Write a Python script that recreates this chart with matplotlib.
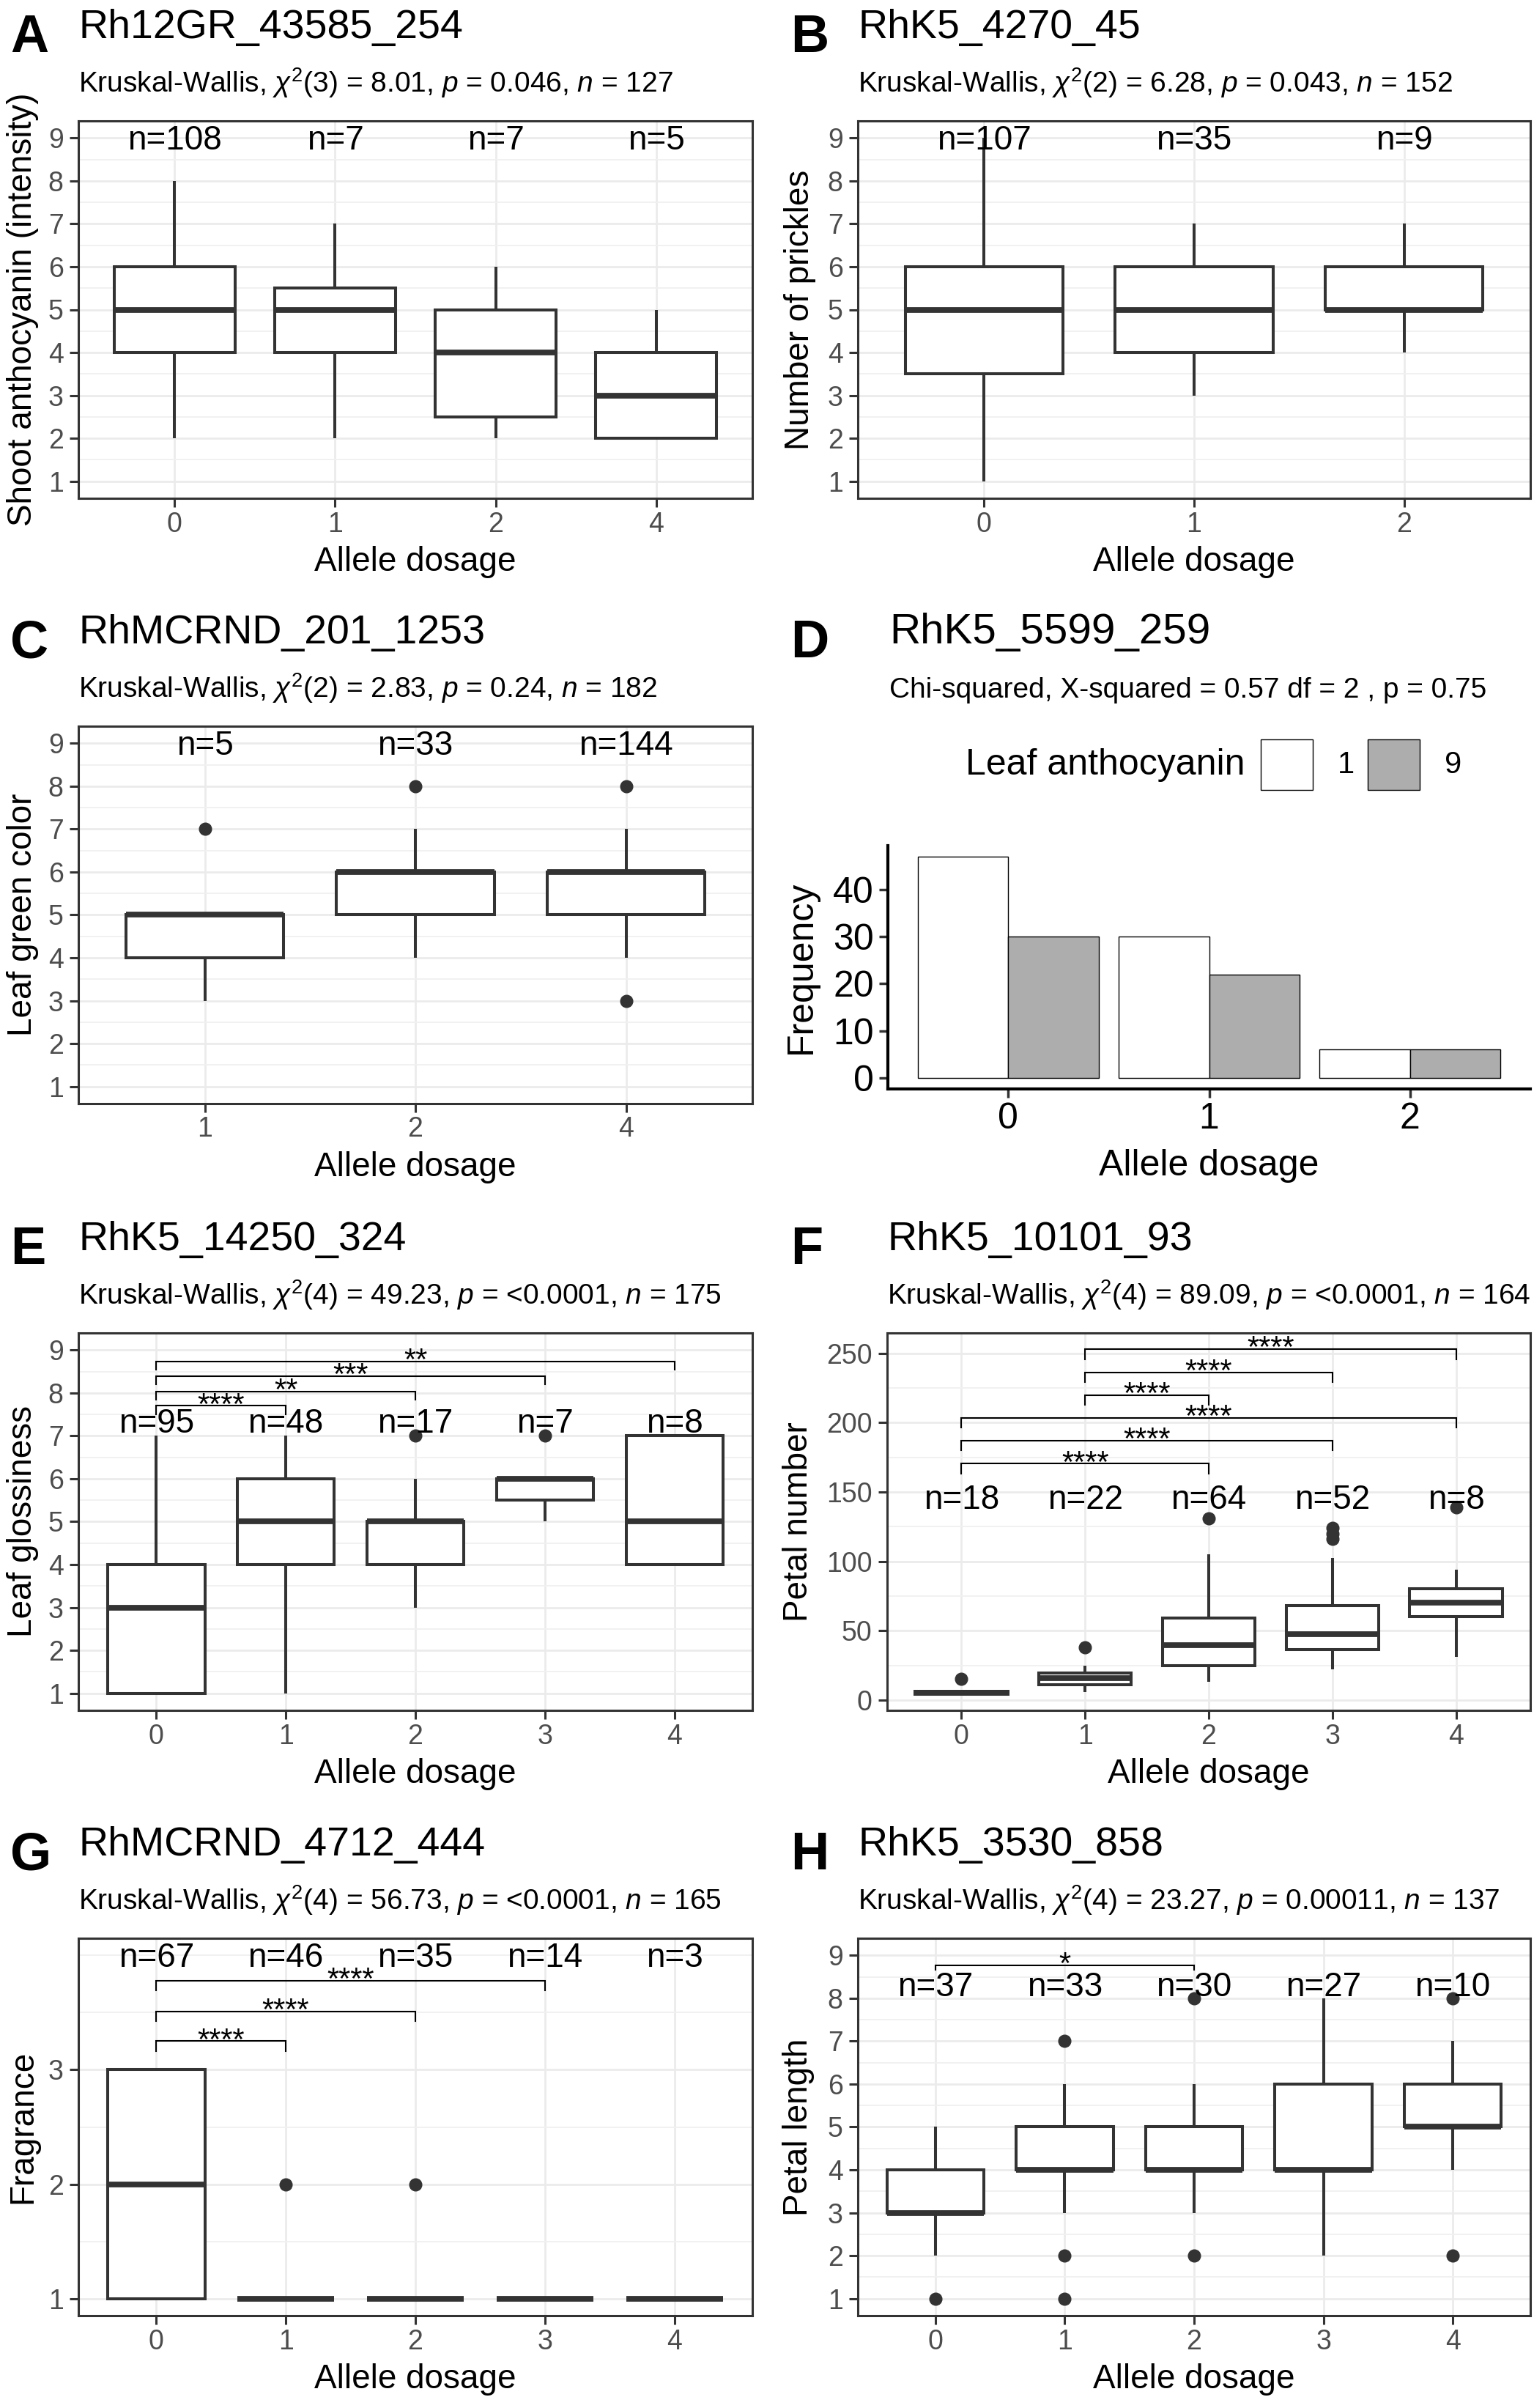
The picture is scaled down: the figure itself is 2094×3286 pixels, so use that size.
import numpy as np
import matplotlib
matplotlib.use('Agg')
import matplotlib.pyplot as plt
from matplotlib.patches import Rectangle

plt.rcParams['font.family'] = ['Liberation Sans', 'DejaVu Sans']
plt.rcParams['mathtext.fontset'] = 'custom'
plt.rcParams['mathtext.rm'] = 'Liberation Sans'
plt.rcParams['mathtext.it'] = 'Liberation Sans:italic'
plt.rcParams['mathtext.bf'] = 'Liberation Sans:bold'

W, H = 2094, 3286
DK = '#333333'

# ---------------- data ----------------
# A  shoot anthocyanin
A_cats = ['0', '1', '2', '4']
A_n = [108, 7, 7, 5]
A_q1 = [4, 4, 2.5, 2]
A_med = [5, 5, 4, 3]
A_q3 = [6, 5.5, 5, 4]
A_lo = [2, 2, 2, 2]
A_hi = [8, 7, 6, 5]
A_out = [[], [], [], []]

# B  number of prickles
B_cats = ['0', '1', '2']
B_n = [107, 35, 9]
B_q1 = [3.5, 4, 5]
B_med = [5, 5, 5]
B_q3 = [6, 6, 6]
B_lo = [1, 3, 4]
B_hi = [9, 7, 7]
B_out = [[], [], []]

# C  leaf green color
C_cats = ['1', '2', '4']
C_n = [5, 33, 144]
C_q1 = [4, 5, 5]
C_med = [5, 6, 6]
C_q3 = [5, 6, 6]
C_lo = [3, 4, 4]
C_hi = [5, 7, 7]
C_out = [[7], [8], [8, 3]]

# D  leaf anthocyanin counts
D_cats = ['0', '1', '2']
D_groups = ['1', '9']
D_freq_1 = [47, 30, 6]
D_freq_9 = [30, 22, 6]

# E  leaf glossiness
E_cats = ['0', '1', '2', '3', '4']
E_n = [95, 48, 17, 7, 8]
E_q1 = [1, 4, 4, 5.5, 4]
E_med = [3, 5, 5, 6, 5]
E_q3 = [4, 6, 5, 6, 7]
E_lo = [1, 1, 3, 5, 4]
E_hi = [7, 7, 6, 6, 7]
E_out = [[], [], [7], [7], []]
E_pairs = [(0, 1), (0, 2), (0, 3), (0, 4)]
E_sig = ['****', '**', '***', '**']
E_sig_y = [7.7, 8.04, 8.4, 8.74]

# F  petal number
F_cats = ['0', '1', '2', '3', '4']
F_n = [18, 22, 64, 52, 8]
F_q1 = [4, 11, 24.5, 36.5, 60]
F_med = [5, 16, 39.5, 47.5, 70]
F_q3 = [6, 19.5, 59, 68, 80.5]
F_lo = [3, 5.5, 13, 22, 31]
F_hi = [7, 25, 105, 102.5, 94]
F_out = [[15], [38], [131], [116, 120, 124], [139]]
F_pairs = [(0, 2), (0, 3), (0, 4), (1, 2), (1, 3), (1, 4)]
F_sig = ['****'] * 6
F_sig_y = [170.4, 186.9, 203.4, 219.9, 236.4, 252.9]

# G  fragrance
G_cats = ['0', '1', '2', '3', '4']
G_n = [67, 46, 35, 14, 3]
G_q1 = [1, 1, 1, 1, 1]
G_med = [2, 1, 1, 1, 1]
G_q3 = [3, 1, 1, 1, 1]
G_lo = [1, 1, 1, 1, 1]
G_hi = [3, 1, 1, 1, 1]
G_out = [[], [2], [2], [], []]
G_pairs = [(0, 1), (0, 2), (0, 3)]
G_sig = ['****'] * 3
G_sig_y = [3.25, 3.51, 3.78]

# H  petal length
H_cats = ['0', '1', '2', '3', '4']
H_n = [37, 33, 30, 27, 10]
H_q1 = [3, 4, 4, 4, 5]
H_med = [3, 4, 4, 4, 5]
H_q3 = [4, 5, 5, 6, 6]
H_lo = [2, 3, 3, 2, 4]
H_hi = [5, 6, 6, 8, 7]
H_out = [[1], [7, 2, 1], [8, 2], [], [8, 2]]
H_pairs = [(0, 2)]
H_sig = ['*']
H_sig_y = [8.77]

# ---------------- drawing ----------------
fig = plt.figure(figsize=(W / 100, H / 100), dpi=100)


def add_ax(x0, y0, x1, y1):
    # pixel box -> figure fraction
    return fig.add_axes([x0 / W, 1 - y1 / H, (x1 - x0) / W, (y1 - y0) / H])


def headings(letter, lx, title, tx, sub, rowtop, tsize=40):
    fig.text(lx / W, 1 - (rowtop - 94) / H, letter, fontsize=52,
             fontweight='bold', va='baseline')
    fig.text(tx / W, 1 - (rowtop - 113) / H, title, fontsize=tsize, va='baseline')
    fig.text(tx / W, 1 - (rowtop - 39) / H, sub, fontsize=28, va='baseline')


def box_panel(rect, cats, n, q1, med, q3, lo, hi, out, ylim, yticks, yminor,
              n_y, ylabel, ylab_x):
    ax = add_ax(*rect)
    stats = [dict(q1=a, med=m, q3=b, whislo=l, whishi=h, fliers=o)
             for a, m, b, l, h, o in zip(q1, med, q3, lo, hi, out)]
    ax.bxp(stats, positions=range(len(cats)), widths=0.75, patch_artist=True,
           showcaps=False, zorder=3,
           boxprops=dict(facecolor='white', edgecolor=DK, linewidth=2.9),
           medianprops=dict(color=DK, linewidth=5.6, solid_capstyle='butt'),
           whiskerprops=dict(color=DK, linewidth=2.9, solid_capstyle='butt'),
           flierprops=dict(marker='o', markerfacecolor=DK, markeredgecolor=DK,
                           markersize=12, linestyle='none'))
    ax.set_xlim(-0.6, len(cats) - 0.4)
    ax.set_ylim(*ylim)
    ax.set_xticks(range(len(cats)))
    ax.set_xticklabels(cats)
    ax.set_yticks(yticks)
    ax.set_yticks(yminor, minor=True)
    ax.set_axisbelow(True)
    ax.grid(True, which='major', color='#EBEBEB', lw=2.0)
    ax.grid(True, which='minor', axis='y', color='#F1F1F1', lw=1.4)
    ax.tick_params(which='minor', length=0)
    ax.tick_params(which='major', length=8.6, width=2.2, color=DK,
                   labelsize=27, labelcolor='#4D4D4D')
    ax.tick_params(axis='x', pad=4)
    ax.tick_params(axis='y', pad=6)
    for s in ax.spines.values():
        s.set_color(DK)
        s.set_linewidth(2.2)
    for i, v in enumerate(n):
        ax.text(i, n_y, 'n=%d' % v, ha='center', va='center', fontsize=33, zorder=5)
    ax.set_xlabel('Allele dosage', fontsize=33, va='center')
    ax.xaxis.set_label_coords(0.5, -87 / (rect[3] - rect[1]))
    ax.set_ylabel(ylabel, fontsize=33, va='center')
    ax.yaxis.set_label_coords((ylab_x - rect[0]) / (rect[2] - rect[0]), 0.5)
    return ax


def brackets(ax, pairs, ys, labels, tip):
    for (a, b), y, lab in zip(pairs, ys, labels):
        ax.plot([a, a, b, b], [y - tip, y, y, y - tip], color='black', lw=1.5,
                zorder=4, solid_joinstyle='miter')
        ax.annotate(lab, xy=((a + b) / 2, y), xytext=(0, -8),
                    textcoords='offset points', ha='center', va='baseline',
                    fontsize=30, zorder=5)


nine = list(range(1, 10))
nine_minor = [i + 0.5 for i in range(1, 9)]
sub_kw = r'Kruskal-Wallis, $\chi^2$'

# row tops (pixels)
r1, r2, r3, r4 = 165, 991, 1819, 2645

# A
headings('A', 14, 'Rh12GR_43585_254', 107,
         sub_kw + r'(3) = 8.01, $p$ = 0.046, $n$ = 127', r1)
box_panel((107, r1, 1027, r1 + 515), A_cats, A_n, A_q1, A_med, A_q3, A_lo, A_hi,
          A_out, (0.6, 9.4), nine, nine_minor, 8.94,
          'Shoot anthocyanin (intensity)', 31)

# B
headings('B', 1079, 'RhK5_4270_45', 1171,
         sub_kw + r'(2) = 6.28, $p$ = 0.043, $n$ = 152', r1)
box_panel((1171, r1, 2089, r1 + 515), B_cats, B_n, B_q1, B_med, B_q3, B_lo, B_hi,
          B_out, (0.6, 9.4), nine, nine_minor, 8.94, 'Number of prickles', 1092)

# C
headings('C', 14, 'RhMCRND_201_1253', 107,
         sub_kw + r'(2) = 2.83, $p$ = 0.24, $n$ = 182', r2)
box_panel((107, r2, 1027, r2 + 515), C_cats, C_n, C_q1, C_med, C_q3, C_lo, C_hi,
          C_out, (0.6, 9.4), nine, nine_minor, 8.94, 'Leaf green color', 31)

# D  bar chart
headings('D', 1079, 'RhK5_5599_259', 1214,
         'Chi-squared, X-squared = 0.57 df = 2 , p = 0.75', r2, tsize=42)
drect = (1212, 1154, 2089, 1486)
axd = add_ax(*drect)
xd = np.arange(len(D_cats))
axd.bar(xd - 0.225, D_freq_1, width=0.45, color='white', edgecolor='black', lw=1.0)
axd.bar(xd + 0.225, D_freq_9, width=0.45, color='#ADADAD', edgecolor='black', lw=1.0)
axd.set_xlim(-0.6, 2.6)
axd.set_ylim(-2.35, 49.35)
axd.set_xticks(xd)
axd.set_xticklabels(D_cats)
axd.set_yticks([0, 10, 20, 30, 40])
for s in ['top', 'right']:
    axd.spines[s].set_visible(False)
for s in ['left', 'bottom']:
    axd.spines[s].set_color('black')
    axd.spines[s].set_linewidth(3.0)
axd.tick_params(length=8.6, width=2.5, color=DK, labelsize=36, labelcolor='black')
axd.tick_params(axis='x', pad=4)
axd.tick_params(axis='y', pad=5)
axd.set_xlabel('Allele dosage', fontsize=36, va='center')
axd.xaxis.set_label_coords(0.5, -105 / (drect[3] - drect[1]))
axd.set_ylabel('Frequency', fontsize=36, va='center')
axd.yaxis.set_label_coords((1094 - drect[0]) / (drect[2] - drect[0]), 0.5)

# legend of D
fig.text(1318 / W, 1 - 1044 / H, 'Leaf anthocyanin', fontsize=36, va='center')
for kx, lab, col in [(1721, D_groups[0], 'white'), (1867, D_groups[1], '#ADADAD')]:
    fig.add_artist(Rectangle((kx / W, 1 - 1078 / H), 71 / W, 69 / H,
                             transform=fig.transFigure, facecolor=col,
                             edgecolor='black', lw=1.0))
    fig.text((kx + 105) / W, 1 - 1044 / H, lab, fontsize=30, va='center')

# E
headings('E', 14, 'RhK5_14250_324', 107,
         sub_kw + r'(4) = 49.23, $p$ = <0.0001, $n$ = 175', r3)
axe = box_panel((107, r3, 1027, r3 + 515), E_cats, E_n, E_q1, E_med, E_q3, E_lo,
                E_hi, E_out, (0.6, 9.4), nine, nine_minor, 7.28, 'Leaf glossiness', 31)
brackets(axe, E_pairs, E_sig_y, E_sig, 0.2)

# F
headings('F', 1079, 'RhK5_10101_93', 1211,
         sub_kw + r'(4) = 89.09, $p$ = <0.0001, $n$ = 164', r3)
axf = box_panel((1211, r3, 2089, r3 + 515), F_cats, F_n, F_q1, F_med, F_q3, F_lo,
                F_hi, F_out, (-7.5, 264.7), [0, 50, 100, 150, 200, 250],
                [25, 75, 125, 175, 225], 144, 'Petal number', 1090)
brackets(axf, F_pairs, F_sig_y, F_sig, 7)

# G
headings('G', 14, 'RhMCRND_4712_444', 107,
         sub_kw + r'(4) = 56.73, $p$ = <0.0001, $n$ = 165', r4)
axg = box_panel((107, r4, 1027, r4 + 515), G_cats, G_n, G_q1, G_med, G_q3, G_lo,
                G_hi, G_out, (0.85, 4.15), [1, 2, 3], [1.5, 2.5, 3.5, 4.0], 3.98,
                'Fragrance', 31)
brackets(axg, G_pairs, G_sig_y, G_sig, 0.085)

# H
headings('H', 1079, 'RhK5_3530_858', 1171,
         sub_kw + r'(4) = 23.27, $p$ = 0.00011, $n$ = 137', r4)
axh = box_panel((1171, r4, 2089, r4 + 515), H_cats, H_n, H_q1, H_med, H_q3, H_lo,
                H_hi, H_out, (0.6, 9.4), nine, nine_minor, 8.26, 'Petal length', 1090)
brackets(axh, H_pairs, H_sig_y, H_sig, 0.11)

fig.savefig('out.png', dpi=100, facecolor='white')
